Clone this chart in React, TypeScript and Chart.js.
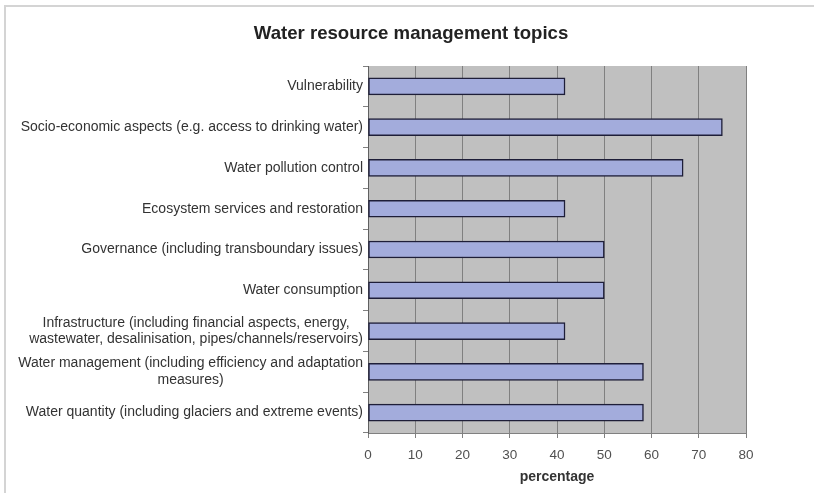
import React, { useEffect, useRef } from "react";
import { Chart, registerables } from "chart.js";

Chart.register(...registerables);

const chartTitle = "Water resource management topics";
const categories: string[][] = [
  ["Vulnerability"],
  ["Socio-economic aspects (e.g. access to drinking water)"],
  ["Water pollution control"],
  ["Ecosystem services and restoration"],
  ["Governance (including transboundary issues)"],
  ["Water consumption"],
  [
    "Infrastructure (including financial aspects, energy,",
    "wastewater, desalinisation, pipes/channels/reservoirs)",
  ],
  ["Water management (including efficiency and adaptation", "measures)"],
  ["Water quantity (including glaciers and extreme events)"],
];
const percentages = [41.7, 75, 66.7, 41.7, 50, 50, 41.7, 58.3, 58.3];
const xMin = 0;
const xMax = 80;
const xStep = 10;
const xAxisTitle = "percentage";

const FONT = "'Liberation Sans', Arial, Helvetica, sans-serif";

const plotBackground = {
  id: "plotBackground",
  beforeDraw(chart: any) {
    const { ctx, chartArea } = chart;
    ctx.save();
    ctx.fillStyle = "#c0c0c0";
    ctx.fillRect(
      chartArea.left,
      chartArea.top,
      chartArea.right - chartArea.left,
      chartArea.bottom - chartArea.top
    );
    ctx.restore();
  },
};

const titleAndLabels = {
  id: "titleAndLabels",
  afterDraw(chart: any) {
    const { ctx } = chart;
    const yScale = chart.scales.y;
    const rightEdge = chart.chartArea.left - 5;
    const lineH = 16.5;
    ctx.save();
    // chart title
    ctx.font = `bold 18.6px ${FONT}`;
    ctx.fillStyle = "#222222";
    ctx.textAlign = "center";
    ctx.textBaseline = "middle";
    ctx.fillText(chartTitle, 411, 33.5);
    // category labels (block right-aligned, lines centred)
    ctx.font = `14px ${FONT}`;
    ctx.fillStyle = "#333333";
    categories.forEach((lines, i) => {
      const y = yScale.getPixelForValue(i);
      const maxW = Math.max(...lines.map((l) => ctx.measureText(l).width));
      const cx = rightEdge - maxW / 2;
      lines.forEach((line, j) => {
        ctx.fillText(line, cx, y + (j - (lines.length - 1) / 2) * lineH);
      });
    });
    ctx.restore();
  },
};

export default function App() {
  const canvasRef = useRef<HTMLCanvasElement | null>(null);

  useEffect(() => {
    if (!canvasRef.current) return;
    const chart = new Chart(canvasRef.current, {
      type: "bar",
      data: {
        labels: categories.map((c) => c.join(" ")),
        datasets: [
          {
            data: percentages,
            backgroundColor: "#a3acdc",
            borderColor: "#1e1e38",
            borderWidth: 1.5,
            borderSkipped: false,
            barThickness: 17,
          },
        ],
      },
      plugins: [plotBackground, titleAndLabels],
      options: {
        indexAxis: "y",
        animation: false,
        responsive: false,
        devicePixelRatio: 1,
        layout: { padding: { top: 66, right: 68, bottom: 0, left: 0 } },
        plugins: {
          legend: { display: false },
          tooltip: { enabled: false },
          title: { display: false },
        },
        scales: {
          x: {
            type: "linear",
            min: xMin,
            max: xMax,
            ticks: {
              stepSize: xStep,
              color: "#505050",
              font: { family: FONT, size: 13.5 },
              padding: 9,
            },
            grid: {
              color: "#808080",
              lineWidth: 1,
              drawTicks: true,
              tickLength: 5,
            },
            border: { display: true, color: "#808080", width: 1 },
            title: {
              display: true,
              text: xAxisTitle,
              color: "#333333",
              font: { family: FONT, size: 14, weight: "bold" },
              padding: { top: 4, bottom: 7 },
            },
            afterFit(scale: any) {
              scale.height = 60;
            },
          },
          y: {
            type: "category",
            ticks: { display: false },
            grid: {
              offset: true,
              drawOnChartArea: false,
              drawTicks: true,
              tickLength: 5,
              color: "#808080",
            },
            border: { display: true, color: "#606060", width: 1 },
            afterFit(scale: any) {
              scale.width = 368;
            },
          },
        },
      } as any,
    });
    return () => chart.destroy();
  }, []);

  return (
    <div
      style={{
        position: "fixed",
        left: 0,
        top: 0,
        width: 814,
        height: 493,
        background: "#ffffff",
      }}
    >
      <div
        style={{
          position: "absolute",
          left: 4,
          top: 5,
          width: 810,
          height: 488,
          borderTop: "2px solid #d4d4d4",
          borderLeft: "2px solid #d4d4d4",
          boxSizing: "border-box",
        }}
      />
      <canvas
        ref={canvasRef}
        width={814}
        height={493}
        style={{ position: "absolute", left: 0, top: 0, width: 814, height: 493 }}
      />
    </div>
  );
}
